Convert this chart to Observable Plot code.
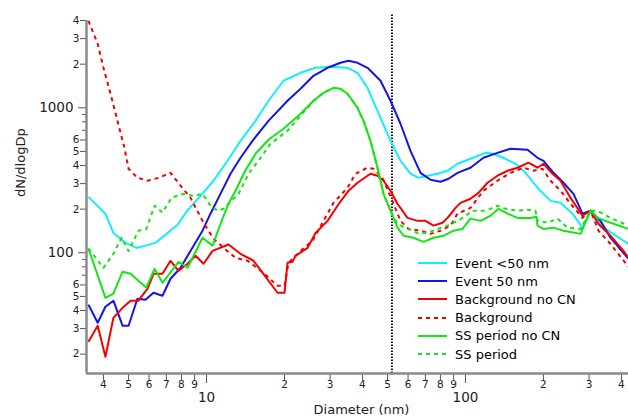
<!DOCTYPE html>
<html><head><meta charset="utf-8">
<script src="https://cdn.jsdelivr.net/npm/d3@7"></script>
<script src="https://cdn.jsdelivr.net/npm/@observablehq/plot@0.6"></script>
<style>
body{margin:0;background:#fff;font-family:"DejaVu Sans",sans-serif;}
#wrap{position:relative;width:628px;height:420px;overflow:hidden;}
#legend{position:absolute;left:418px;top:254px;font-size:13px;color:#000;}
.row{display:flex;align-items:center;height:18.2px;white-space:nowrap;}
.row svg{margin-right:8px;display:block;}
</style></head><body><div id="wrap"></div>
<script>
// ---- data: [diameter (nm), dN/dlogDp] ----
const eventSmall = [[3.50,243],[3.76,214],[4.07,186],[4.37,137],[4.87,117],[5.37,108],[5.81,112],[6.35,117],[6.94,133],[7.73,156],[8.37,192],[9.48,247],[10.64,314],[12.05,431],[13.53,592],[15.46,813],[17.35,1118],[19.83,1536],[23.07,1743],[26.36,1887],[30.12,1918],[35.03,1887],[38.28,1743],[41.84,1374],[46.97,853],[51.34,592],[56.10,431],[61.32,351],[65.86,329],[71.35,340],[77.98,351],[85.24,368],[93.13,411],[104.5,445],[119.5,489],[128.3,482],[142.7,445],[156.0,411],[170.5,356],[189.7,281],[213.0,228],[232.8,221],[258.9,186],[283.0,149],[303.9,195],[341.0,149],[425.9,115]];
const event50 = [[3.50,43.8],[3.80,32.9],[4.07,42.4],[4.37,46.7],[4.74,31.4],[5.00,31.4],[5.41,48.2],[5.81,47.4],[6.24,53.0],[6.76,50.5],[7.26,66.2],[7.94,78.8],[8.67,103],[9.65,142],[10.36,186],[11.32,255],[12.38,351],[13.53,452],[15.05,592],[17.35,813],[20.55,1118],[23.07,1352],[25.89,1662],[29.33,1887],[32.92,2044],[35.35,2110],[38.28,2044],[41.84,1887],[46.97,1536],[51.34,1118],[56.10,776],[61.32,505],[67.05,356],[73.28,319],[80.09,309],[85.99,324],[93.13,356],[104.5,386],[117.3,452],[132.9,489],[149.2,522],[173.6,513],[189.7,452],[200.1,431],[218.8,356],[239.0,304],[261.2,255],[283.0,186],[303.9,195],[332.0,166],[362.9,127],[425.9,90.9]];
const backgroundNoCN = [[3.50,24.3],[3.80,31.4],[4.07,19.2],[4.37,35.6],[4.74,41.7],[5.09,46.7],[5.46,46.7],[5.92,56.5],[6.24,71.6],[6.76,71.6],[7.26,88.1],[7.80,75.1],[8.45,84.0],[9.07,95.3],[9.74,84.0],[10.55,103],[12.16,114],[13.53,98.4],[15.19,88.1],[16.58,71.6],[18.80,53.0],[20.01,53.0],[20.55,85.3],[21.48,86.7],[22.06,95.3],[24.55,108],[26.36,137],[29.33,166],[32.05,211],[35.35,268],[38.28,304],[41.84,340],[42.97,351],[45.73,340],[48.24,314],[51.34,268],[54.65,218],[59.71,174],[65.28,166],[70.09,166],[75.25,154],[81.53,161],[85.24,174],[91.49,204],[95.65,221],[104.5,236],[112.2,259],[121.6,304],[132.9,340],[145.3,368],[158.8,386],[175.1,418],[189.7,386],[200.1,411],[216.8,351],[232.8,314],[254.3,240],[283.0,180],[303.9,195],[326.2,158],[362.9,131],[407.4,103],[425.9,92.4]];
const background = [[3.50,3981],[3.80,2763],[4.00,1887],[4.26,1250],[4.53,813],[4.82,530],[5.00,380],[5.41,329],[5.92,314],[6.54,329],[7.26,356],[7.94,290],[8.67,240],[8.91,218],[9.74,161],[10.64,125],[11.63,108],[12.94,92.4],[14.40,88.1],[16.58,72.8],[18.80,59.2],[20.01,59.2],[20.73,85.3],[23.07,103],[25.67,121],[28.29,166],[30.93,221],[35.03,281],[37.61,351],[41.84,386],[44.13,380],[47.81,329],[52.72,218],[56.10,166],[60.25,146],[67.05,142],[73.28,135],[80.09,142],[87.52,154],[93.13,186],[104.5,204],[117.3,268],[132.9,314],[149.2,356],[167.5,386],[183.0,368],[198.3,380],[213.0,314],[232.8,268],[254.3,218],[283.0,174],[303.9,195],[326.2,142],[362.9,115],[425.9,80.0]];
const ssNoCN = [[3.50,107],[4.07,48.9],[4.37,52.2],[4.74,74.0],[5.09,71.6],[5.86,57.4],[6.30,77.6],[6.76,62.1],[7.80,86.7],[8.45,78.8],[8.91,95.3],[9.65,127],[10.55,112],[11.32,158],[12.16,218],[12.94,268],[14.10,368],[15.46,482],[17.35,602],[19.83,717],[23.07,909],[25.89,1118],[28.29,1268],[30.93,1374],[32.92,1352],[35.03,1250],[38.28,1000],[40.38,813],[42.97,592],[45.73,386],[48.24,255],[51.34,195],[54.65,149],[57.62,131],[63.00,127],[68.85,119],[75.25,127],[82.26,131],[89.88,142],[97.37,146],[104.5,172],[114.3,166],[124.9,180],[134.1,201],[145.3,186],[158.8,174],[178.2,174],[188.0,177],[189.7,154],[200.1,146],[218.8,149],[239.0,142],[278.0,135],[303.9,195],[323.3,174],[362.9,161],[425.9,146]];
const ssPeriod = [[3.50,107],[4.00,78.8],[4.37,98.4],[4.70,127],[5.00,103],[5.46,142],[5.86,146],[6.30,211],[6.76,189],[7.33,240],[8.15,255],[8.91,247],[9.65,255],[10.36,211],[11.03,195],[11.63,201],[12.16,218],[13.29,255],[14.53,351],[16.17,452],[17.67,565],[20.55,694],[23.07,881],[25.89,1118],[28.29,1268],[30.93,1374],[32.92,1352],[35.03,1250],[38.28,1000],[40.38,813],[42.97,592],[45.73,386],[48.24,255],[51.34,195],[54.65,158],[59.71,146],[65.28,137],[71.35,137],[77.98,146],[85.24,154],[93.13,166],[97.37,174],[106.4,195],[119.5,195],[124.9,201],[132.9,211],[142.7,201],[158.8,195],[173.6,198],[186.3,195],[189.7,166],[207.3,161],[226.7,172],[247.7,149],[278.0,146],[303.9,195],[323.3,195],[362.9,174],[425.9,154]];

const seriesNames = ["Event <50 nm","Event 50 nm","Background no CN","Background","SS period no CN","SS period"];
const seriesData = [eventSmall, event50, backgroundNoCN, background, ssNoCN, ssPeriod];
const cutoffDiameter = [52];

const xDomain = [3.44, 426];
const yDomain = [14.7, 4000];
const xMajorTicks = [10, 100];
const xMinorTicks = [4,5,6,7,8,9,20,30,40,50,60,70,80,90,200,300,400];
const yMajorTicks = [100, 1000];
const yMinorLabeled = [20,30,40,50,60,200,300,400,500,600,2000,3000,4000];
const yMinorPlain = [70,80,90,700,800,900];
const xTitle = "Diameter (nm)";
const yTitle = "dN/dlogDp";

// ---- styles ----
const styles = [
  {stroke:"#10EEFF", dash:null},
  {stroke:"#1414E6", dash:null},
  {stroke:"#F50000", dash:null},
  {stroke:"#F50000", dash:"4,4"},
  {stroke:"#14E614", dash:null},
  {stroke:"#14E614", dash:"4,4"}
];

const lineMarks = seriesData.map((s, i) => Plot.line(s, {
  x: d => d[0], y: d => d[1],
  stroke: styles[i].stroke, strokeWidth: 2,
  strokeDasharray: styles[i].dash || undefined,
  strokeLinejoin: "round", strokeLinecap: "butt"
}));

const firstDigit = d => String(d)[0];
const noLabel = () => "";
const tickColor = "#555";
const labelColor = "#222";

const chart = Plot.plot({
  width: 628, height: 420,
  marginLeft: 86, marginRight: 0, marginTop: 20, marginBottom: 47,
  style: {fontFamily: "'DejaVu Sans', sans-serif", background: "white", color: "#222", overflow: "visible"},
  x: {type: "log", domain: xDomain, label: null},
  y: {type: "log", domain: yDomain, label: null},
  marks: [
    Plot.ruleX(cutoffDiameter, {y1: yDomain[0], y2: 4370, stroke: "#111", strokeWidth: 2, strokeDasharray: "1.5,1.5"}),
    ...lineMarks,
    // tick lines (labels drawn separately)
    Plot.axisY(yMajorTicks, {tickSize: 8, tickFormat: noLabel, stroke: tickColor, label: null}),
    Plot.axisY(yMinorLabeled, {tickSize: 6, tickFormat: noLabel, stroke: tickColor, label: null}),
    Plot.axisY(yMinorPlain, {tickSize: 4, tickFormat: noLabel, stroke: tickColor, label: null}),
    Plot.axisX(xMajorTicks, {tickSize: 10, tickFormat: noLabel, stroke: tickColor, label: null}),
    Plot.axisX(xMinorTicks, {tickSize: 7, tickFormat: noLabel, stroke: tickColor, label: null}),
    // tick labels
    Plot.text(yMajorTicks, {y: d => d, frameAnchor: "left", text: d => String(d), dx: -13, textAnchor: "end", fontSize: 13.5, fill: labelColor}),
    Plot.text(yMinorLabeled, {y: d => d, frameAnchor: "left", text: firstDigit, dx: -7, textAnchor: "end", fontSize: 10.5, fill: labelColor}),
    Plot.text(xMajorTicks, {x: d => d, frameAnchor: "bottom", text: d => String(d), dy: 19, lineAnchor: "top", fontSize: 13.5, fill: labelColor}),
    Plot.text(xMinorTicks, {x: d => d, frameAnchor: "bottom", text: firstDigit, dy: 7, lineAnchor: "top", fontSize: 10.5, fill: labelColor}),
    // axis lines
    Plot.ruleX([xDomain[0]], {stroke: "#8a8a8a", strokeWidth: 2.5}),
    Plot.ruleY([yDomain[0]], {stroke: "#8a8a8a", strokeWidth: 2.5}),
    Plot.text([yTitle], {frameAnchor: "left", dx: -66, rotate: -90, fontSize: 13, fill: labelColor}),
    Plot.text([xTitle], {frameAnchor: "bottom", dx: 4, dy: 40, fontSize: 13, fill: labelColor})
  ]
});

const wrap = document.getElementById("wrap");
wrap.appendChild(chart);

// legend
const legend = document.createElement("div");
legend.id = "legend";
seriesNames.forEach((name, i) => {
  const row = document.createElement("div");
  row.className = "row";
  const dash = styles[i].dash ? `stroke-dasharray="${styles[i].dash}"` : "";
  row.innerHTML = `<svg width="29" height="6"><line x1="0" x2="29" y1="3" y2="3" stroke="${styles[i].stroke}" stroke-width="2" ${dash}/></svg><span>${name}</span>`;
  legend.appendChild(row);
});
wrap.appendChild(legend);
</script></body></html>
